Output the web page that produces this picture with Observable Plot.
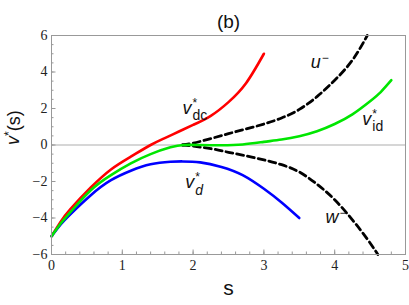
<!DOCTYPE html>
<html><head><meta charset="utf-8">
<script src="https://cdn.jsdelivr.net/npm/d3@7"></script>
<script src="https://cdn.jsdelivr.net/npm/@observablehq/plot@0.6"></script>
<style>body{margin:0;background:#fff}</style>
</head><body><div id="chart"></div>
<script>
const title = "(b)";
const xLabel = "s";
const xTicks = [0, 1, 2, 3, 4, 5];
const yTicks = [-6, -4, -2, 0, 2, 4, 6];
const xMinor = d3.range(0, 5.001, 0.2);
const yMinor = d3.range(-6, 6.001, 0.5);

const sDc = [0, 0.13, 0.27, 0.555, 0.84, 1.12, 1.4, 1.6, 1.8, 2.0, 2.25, 2.5, 2.75, 3.0];
const vDc = [-5, -4.2, -3.5, -2.33, -1.34, -0.64, 0, 0.38, 0.74, 1.1, 1.6, 2.35, 3.4, 5.0];

const sId = [0, 0.13, 0.27, 0.555, 0.84, 1.12, 1.4, 1.68, 1.87, 2.1, 2.4, 2.7, 3.0, 3.25, 3.5, 3.75, 4.0, 4.25, 4.5, 4.65, 4.8];
const vId = [-5, -4.3, -3.67, -2.48, -1.65, -1.01, -0.5, -0.13, 0, 0, -0.01, 0.03, 0.17, 0.3, 0.48, 0.75, 1.15, 1.68, 2.4, 2.9, 3.55];

const sD = [0, 0.13, 0.27, 0.555, 0.84, 1.12, 1.4, 1.68, 1.85, 2.1, 2.4, 2.7, 3.0, 3.25, 3.5];
const vD = [-5, -4.35, -3.78, -2.75, -1.93, -1.41, -1.06, -0.92, -0.9, -0.95, -1.2, -1.65, -2.4, -3.15, -4.0];

const sU = [1.85, 2.0, 2.25, 2.5, 2.75, 3.0, 3.25, 3.5, 3.75, 4.0, 4.25, 4.46];
const vU = [0, 0.1, 0.35, 0.62, 0.88, 1.15, 1.48, 1.95, 2.65, 3.55, 4.65, 6.0];

const sW = [1.85, 2.0, 2.25, 2.5, 2.75, 3.0, 3.25, 3.5, 3.75, 4.0, 4.25, 4.45, 4.61];
const vW = [0, -0.06, -0.2, -0.4, -0.6, -0.82, -1.08, -1.48, -2.15, -3.0, -4.1, -5.1, -6.0];

const labelBase = ["v", "u", "v", "v", "w"];
const labelSup = ["*", "−", "*", "*", "−"];
const labelSub = ["dc", "", "id", "d", ""];
const labelSubItalic = [false, false, false, true, false];
const labelS = [1.85, 3.66, 4.39, 1.89, 3.87];
const labelV = [1.72, 4.2, 1.11, -2.35, -4.28];

const toRows = (s, v) => s.map((x, i) => ({s: x, v: v[i]}));
const rDc = toRows(sDc, vDc), rId = toRows(sId, vId), rD = toRows(sD, vD), rU = toRows(sU, vU), rW = toRows(sW, vW);
const labels = labelBase.map((b, i) => ({b, s: labelS[i], v: labelV[i], t: b + labelSup[i] + labelSub[i]}));
const fmt = d => d < 0 ? "−" + (-d) : String(d);

const W = 409, H = 305, mT = 35, mB = 51, mL = 51, mR = 4;
const fW = W - mL - mR, fH = H - mT - mB;
const serif = "Liberation Serif";
const sans = "Liberation Sans";

const chart = Plot.plot({
  width: W, height: H,
  marginTop: mT, marginBottom: mB, marginLeft: mL, marginRight: mR,
  style: {fontFamily: "Liberation Sans, sans-serif", background: "#fff"},
  x: {domain: [0, 5], axis: null},
  y: {domain: [-6, 6], axis: null},
  marks: [
    Plot.ruleY([0], {stroke: "#c8c8c8", strokeWidth: 1.5}),
    Plot.tickX(xMinor, {x: d => d, stroke: "#999", insetTop: fH - 2.5}),
    Plot.tickX(xTicks, {x: d => d, stroke: "#999", insetTop: fH - 4.5}),
    Plot.tickY(yMinor, {y: d => d, stroke: "#999", insetRight: fW - 2.5}),
    Plot.tickY(yTicks, {y: d => d, stroke: "#999", insetRight: fW - 4.5}),
    Plot.line(rDc, {x: "s", y: "v", stroke: "#ff0000", strokeWidth: 2.6, curve: "natural"}),
    Plot.line(rD, {x: "s", y: "v", stroke: "#0000ff", strokeWidth: 2.6, curve: "natural"}),
    Plot.line(rU, {x: "s", y: "v", stroke: "#000", strokeWidth: 2.8, strokeDasharray: "7,4", curve: "natural"}),
    Plot.line(rW, {x: "s", y: "v", stroke: "#000", strokeWidth: 2.8, strokeDasharray: "7,4", curve: "natural"}),
    Plot.line(rId, {x: "s", y: "v", stroke: "#00e600", strokeWidth: 2.6, curve: "natural"}),
    Plot.frame({stroke: "#999", strokeWidth: 1}),
    Plot.text(xTicks, {x: d => d, text: fmt, frameAnchor: "bottom", lineAnchor: "top", dy: 6, fontSize: 14, fontFamily: serif, fill: "#222"}),
    Plot.text(yTicks, {y: d => d, text: fmt, frameAnchor: "left", textAnchor: "end", dx: -4, fontSize: 14, fontFamily: serif, fill: "#222"}),
    Plot.text([xLabel], {text: d => d, frameAnchor: "bottom", dy: 40, fontSize: 21, fontFamily: sans, fill: "#111"}),
    Plot.text(["v*(s)"], {text: d => d, frameAnchor: "left", dx: -38, rotate: -90, fontSize: 18, fontFamily: sans, fill: "#111", className: "ylab"}),
    Plot.text([title], {text: d => d, frameAnchor: "top", dy: -21, fontSize: 19, fontFamily: sans, fill: "#111"}),
    Plot.text(labels, {x: "s", y: "v", text: "t", textAnchor: "start", lineAnchor: "bottom", fontSize: 18, fontFamily: sans, fill: "#111", className: "clab"})
  ]
});
document.getElementById("chart").appendChild(chart);

// rich text: superscripts / subscripts
d3.select(chart).selectAll(".clab text").each(function(_, i) {
  const t = d3.select(this);
  t.text(null);
  t.append("tspan").attr("font-style", "italic").text(labelBase[i]);
  const sup = t.append("tspan").attr("font-size", 12).attr("dy", "-0.55em").attr("dx", 1).text(labelSup[i]);
  if (labelSub[i]) {
    const w = sup.node().getComputedTextLength();
    t.append("tspan").attr("font-size", 14).attr("dx", -w).attr("dy", "0.95em")
      .attr("font-style", labelSubItalic[i] ? "italic" : null).text(labelSub[i]);
  }
});
d3.select(chart).selectAll(".ylab text").each(function() {
  const t = d3.select(this);
  t.text(null);
  t.append("tspan").attr("font-style", "italic").text("v");
  t.append("tspan").attr("font-size", 12).attr("dy", "-0.5em").text("*");
  t.append("tspan").attr("dy", "0.35em").text("(s)");
});
</script>
</body></html>
